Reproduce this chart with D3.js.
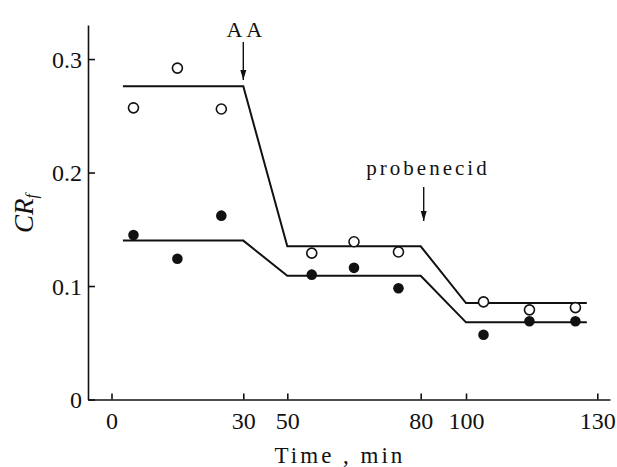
<!-- Load d3.js -->
<script src="https://d3js.org/d3.v7.min.js"></script>

<!-- Create a div where the graph will take place -->
<div id="my_dataviz"></div>

<style>
  body { margin: 0; background: #fff; }
</style>

<script>

// data (time in min, CRf)
var openTime   = [5, 15, 25, 55.5, 65, 75, 104, 114.5, 125]
var openValue  = [0.257, 0.292, 0.256, 0.129, 0.139, 0.130, 0.086, 0.079, 0.081]
var filledTime  = [5, 15, 25, 55.5, 65, 75, 104, 114.5, 125]
var filledValue = [0.145, 0.124, 0.162, 0.110, 0.116, 0.098, 0.057, 0.069, 0.069]

// fitted step lines
var lineTime   = [2.6, 30, 50, 80, 100, 127.6]
var upperValue = [0.276, 0.276, 0.135, 0.135, 0.085, 0.085]
var lowerValue = [0.140, 0.140, 0.109, 0.109, 0.068, 0.068]

// axis ticks
var xTicks = [0, 30, 50, 80, 100, 130]
var yTicks = [0, 0.1, 0.2, 0.3]

// drug additions
var markers = [{t: 30, label: "AA"}, {t: 80, label: "probenecid"}]

var width = 617, height = 467

var svg = d3.select("#my_dataviz")
  .append("svg")
    .attr("width", width)
    .attr("height", height)

// x axis is broken: 30-50 and 80-100 are squeezed
var x = d3.scaleLinear()
  .domain([-5.4, 0, 30, 50, 80, 100, 130, 133])
  .range([88, 111.5, 243.3, 287.3, 420.7, 466, 597.3, 610])

var y = d3.scaleLinear()
  .domain([0, 0.33])
  .range([399.5, 25])

// X axis
var xAxis = svg.append("g")
  .attr("transform", "translate(0," + y(0) + ")")
  .call(d3.axisBottom(x).tickValues(xTicks).tickSizeInner(-6).tickSizeOuter(0).tickPadding(12)
        .tickFormat(d3.format("d")))
xAxis.selectAll("text").attr("font-size", 24)

// Y axis
var yAxis = svg.append("g")
  .attr("transform", "translate(" + x(-5.4) + ",0)")
  .call(d3.axisLeft(y).tickValues(yTicks).tickSizeInner(-7).tickSizeOuter(0).tickPadding(6)
        .tickFormat(function(d){ return d == 0 ? "0" : d3.format(".1f")(d) }))
yAxis.selectAll("text").attr("font-size", 24).attr("dy", "0.35em")

svg.selectAll(".domain, .tick line")
  .attr("stroke", "#111")
  .attr("stroke-width", 1.6)

// axis labels
svg.append("text")
  .attr("x", 340)
  .attr("y", 463)
  .attr("text-anchor", "middle")
  .attr("font-size", 23)
  .attr("letter-spacing", 3)
  .text("Time , min")

var ylab = svg.append("text")
  .attr("transform", "translate(33,233) rotate(-90)")
  .attr("text-anchor", "start")
  .attr("font-size", 27)
  .attr("font-style", "italic")
ylab.append("tspan").text("CR")
ylab.append("tspan").attr("dy", 4).attr("font-size", 16).text("f")

// fitted lines
var line = d3.line()
  .x(function(d){ return x(d[0]) })
  .y(function(d){ return y(d[1]) })

svg.selectAll("fitlines")
  .data([d3.zip(lineTime, upperValue), d3.zip(lineTime, lowerValue)])
  .enter()
  .append("path")
    .attr("d", line)
    .attr("fill", "none")
    .attr("stroke", "#111")
    .attr("stroke-width", 2)

// open circles
svg.selectAll("opendots")
  .data(d3.zip(openTime, openValue))
  .enter()
  .append("circle")
    .attr("cx", function(d){ return x(d[0]) })
    .attr("cy", function(d){ return y(d[1]) })
    .attr("r", 5)
    .attr("fill", "#fff")
    .attr("stroke", "#111")
    .attr("stroke-width", 1.6)

// filled circles
svg.selectAll("filleddots")
  .data(d3.zip(filledTime, filledValue))
  .enter()
  .append("circle")
    .attr("cx", function(d){ return x(d[0]) })
    .attr("cy", function(d){ return y(d[1]) })
    .attr("r", 5.3)
    .attr("fill", "#111")

// arrow heads
svg.append("defs").append("marker")
  .attr("id", "arrow")
  .attr("viewBox", "0 0 10 10")
  .attr("refX", 10).attr("refY", 5)
  .attr("markerWidth", 10).attr("markerHeight", 13)
  .attr("markerUnits", "userSpaceOnUse")
  .attr("orient", "auto")
  .append("path")
    .attr("d", "M0,2 L10,5 L0,8 Z")
    .attr("fill", "#111")

// AA arrow
svg.append("line")
  .attr("x1", x(markers[0].t)).attr("x2", x(markers[0].t))
  .attr("y1", 42).attr("y2", 80)
  .attr("stroke", "#111").attr("stroke-width", 1.4)
  .attr("marker-end", "url(#arrow)")
svg.append("text")
  .attr("x", x(markers[0].t) + 3)
  .attr("y", 37)
  .attr("text-anchor", "middle")
  .attr("font-size", 22)
  .attr("letter-spacing", 4)
  .text(markers[0].label)

// probenecid arrow
svg.append("line")
  .attr("x1", x(markers[1].t) + 3).attr("x2", x(markers[1].t) + 3)
  .attr("y1", 187).attr("y2", 221)
  .attr("stroke", "#111").attr("stroke-width", 1.4)
  .attr("marker-end", "url(#arrow)")
svg.append("text")
  .attr("x", 428)
  .attr("y", 175)
  .attr("text-anchor", "middle")
  .attr("font-size", 21)
  .attr("letter-spacing", 3)
  .text(markers[1].label)

// every text in the same serif face (the axes put sans-serif on their groups)
svg.selectAll("text")
  .attr("font-family", "Liberation Serif")
  .attr("fill", "#111")

</script>
